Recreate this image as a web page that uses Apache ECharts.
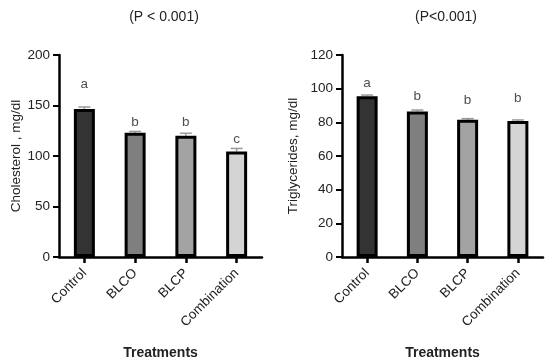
<!DOCTYPE html>
<html><head><meta charset="utf-8">
<script src="https://cdn.jsdelivr.net/npm/echarts@6/dist/echarts.min.js"></script>
<style>html,body{margin:0;padding:0;background:#fff}#c{width:550px;height:362px}</style>
</head><body><div id="c"></div>
<script>
const categories = ['Control', 'BLCO', 'BLCP', 'Combination'];
const barColors = ['#333333', '#7f7f7f', '#a3a3a3', '#d4d4d4'];
const cholValues = [146.5, 123, 120, 104.5];
const cholErrHigh = [148.5, 124.3, 122.5, 107.5];
const cholLetters = ['a', 'b', 'b', 'c'];
const cholLetterPos = [171, 133, 133, 117];
const trigValues = [95.5, 86.5, 81.5, 80.8];
const trigErrHigh = [96.2, 87.3, 82.2, 81.4];
const trigLetters = ['a', 'b', 'b', 'b'];
const trigLetterPos = [103, 95.7, 93.3, 94.5];
const cholTicks = [0, 50, 100, 150, 200];
const trigTicks = [0, 20, 40, 60, 80, 100, 120];

const chart = echarts.init(document.getElementById('c'), null, {renderer: 'canvas'});
const font = 'Arial, "Liberation Sans", sans-serif';
const txt = '#222';

function xAxis(gi) {
  return {
    type: 'category', gridIndex: gi, data: categories,
    axisLine: {lineStyle: {color: '#000', width: 2.5}},
    axisTick: {show: true, alignWithLabel: true, length: 6, lineStyle: {color: '#000', width: 2.5}},
    axisLabel: {rotate: 45, fontSize: 13.5, color: txt, fontFamily: font, margin: 14},
    name: 'Treatments', nameLocation: 'middle', nameGap: 89,
    nameTextStyle: {fontSize: 14, fontWeight: 'bold', color: txt, fontFamily: font}
  };
}
function yAxis(gi, max, interval, name, gap) {
  return {
    type: 'value', gridIndex: gi, min: 0, max: max, interval: interval,
    splitLine: {show: false},
    axisLine: {show: true, lineStyle: {color: '#000', width: 2.5}},
    axisTick: {show: true, length: 6, lineStyle: {color: '#000', width: 2}},
    axisLabel: {fontSize: 13.5, color: txt, fontFamily: font, margin: 9},
    name: name, nameLocation: 'middle', nameGap: gap, nameRotate: 90,
    nameTextStyle: {fontSize: 13.5, color: txt, fontFamily: font}
  };
}
function bars(gi, values) {
  return {
    type: 'bar', xAxisIndex: gi, yAxisIndex: gi, barWidth: 21,
    data: values.map((v, i) => ({value: v, itemStyle: {color: barColors[i]}})),
    itemStyle: {borderColor: '#000', borderWidth: 3},
    z: 2
  };
}
function errs(gi, values, highs) {
  return {
    type: 'custom', xAxisIndex: gi, yAxisIndex: gi, z: 1,
    data: values.map((v, i) => [i, v, highs[i]]),
    renderItem: function (params, api) {
      const p0 = api.coord([api.value(0), api.value(1)]);
      const p1 = api.coord([api.value(0), api.value(2)]);
      const st = {stroke: '#999', lineWidth: 1.5};
      return {type: 'group', children: [
        {type: 'line', shape: {x1: p0[0], y1: p0[1], x2: p1[0], y2: p1[1]}, style: st},
        {type: 'line', shape: {x1: p1[0] - 6, y1: p1[1], x2: p1[0] + 6, y2: p1[1]}, style: st}
      ]};
    }
  };
}
function letters(gi, pos, lets) {
  return {
    type: 'scatter', xAxisIndex: gi, yAxisIndex: gi, symbolSize: 0,
    data: pos.map((v, i) => [i, v]),
    label: {show: true, position: 'inside', fontSize: 13.5, color: txt, fontFamily: font,
      formatter: p => lets[p.dataIndex]},
    silent: true
  };
}

chart.setOption({
  animation: false,
  backgroundColor: '#fff',
  title: [
    {text: '(P < 0.001)', left: 159, top: 5, textAlign: 'center',
     textStyle: {fontSize: 14, fontWeight: 'normal', color: txt, fontFamily: font}},
    {text: '(P<0.001)', left: 441, top: 5, textAlign: 'center',
     textStyle: {fontSize: 14, fontWeight: 'normal', color: txt, fontFamily: font}}
  ],
  grid: [
    {left: 59, right: 288, top: 55, bottom: 105, containLabel: false, outerBoundsMode: 'none'},
    {left: 342, right: 7, top: 55, bottom: 105, containLabel: false, outerBoundsMode: 'none'}
  ],
  xAxis: [xAxis(0), xAxis(1)],
  yAxis: [
    yAxis(0, cholTicks[cholTicks.length - 1], cholTicks[1] - cholTicks[0], 'Cholesterol , mg/dl', 35),
    yAxis(1, trigTicks[trigTicks.length - 1], trigTicks[1] - trigTicks[0], 'Triglycerides, mg/dl', 42)
  ],
  series: [
    bars(0, cholValues), errs(0, cholValues, cholErrHigh), letters(0, cholLetterPos, cholLetters),
    bars(1, trigValues), errs(1, trigValues, trigErrHigh), letters(1, trigLetterPos, trigLetters)
  ]
});
</script></body></html>
